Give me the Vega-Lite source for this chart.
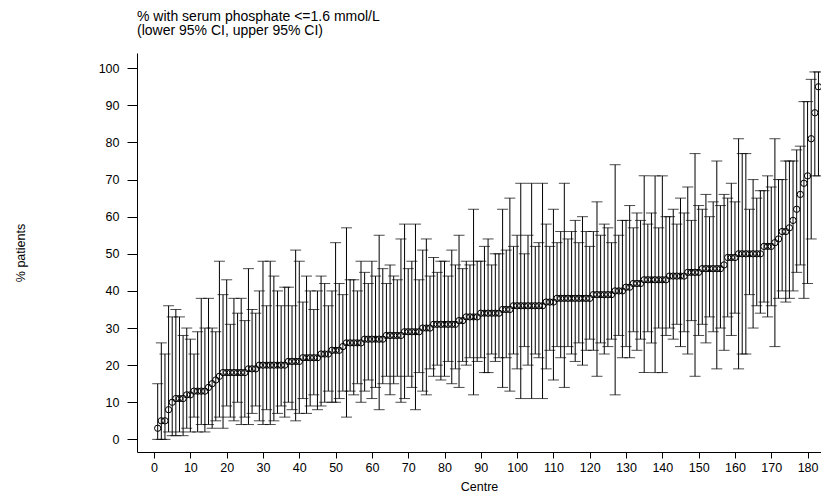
{
"$schema":"https://vega.github.io/schema/vega-lite/v6.json",
"width":684,"height":399,
"autosize":{"type":"none"},
"padding":{"left":137,"top":53,"right":0,"bottom":43},
"background":"white",
"config":{"view":{"stroke":null},"font":"Liberation Sans",
 "axis":{"grid":false,"domainColor":"black","tickColor":"black","labelColor":"black","labelFont":"Liberation Sans","labelFontSize":12.5,"titleFont":"Liberation Sans","titleFontSize":12.5,"titleFontWeight":"normal","titleColor":"black","labelOverlap":false},
 "axisX":{"tickSize":6,"labelPadding":3,"titlePadding":7},
 "axisY":{"tickSize":10,"labelPadding":8,"titlePadding":71}},
"title":{"text":["% with serum phosphate <=1.6 mmol/L","(lower 95% CI, upper 95% CI)"],"anchor":"start","frame":"group","font":"Liberation Sans","fontSize":14,"fontWeight":"normal","color":"black","lineHeight":14.5,"baseline":"bottom","offset":1},
"data":{"values":[
{"c":1,"v":3,"lo":0,"hi":15},{"c":2,"v":5,"lo":0,"hi":26},{"c":3,"v":5,"lo":0,"hi":23},{"c":4,"v":8,"lo":2,"hi":36},{"c":5,"v":10,"lo":1,"hi":33},
{"c":6,"v":11,"lo":1,"hi":35},{"c":7,"v":11,"lo":2,"hi":33},{"c":8,"v":11,"lo":1,"hi":28},{"c":9,"v":12,"lo":3,"hi":30},{"c":10,"v":12,"lo":2,"hi":27},
{"c":11,"v":13,"lo":6,"hi":23},{"c":12,"v":13,"lo":2,"hi":29},{"c":13,"v":13,"lo":4,"hi":38},{"c":14,"v":13,"lo":2,"hi":30},{"c":15,"v":14,"lo":4,"hi":38},
{"c":16,"v":15,"lo":3,"hi":30},{"c":17,"v":16,"lo":5,"hi":29},{"c":18,"v":17,"lo":6,"hi":48},{"c":19,"v":18,"lo":3,"hi":39},{"c":20,"v":18,"lo":9,"hi":43},
{"c":21,"v":18,"lo":6,"hi":31},{"c":22,"v":18,"lo":5,"hi":38},{"c":23,"v":18,"lo":10,"hi":34},{"c":24,"v":18,"lo":4,"hi":38},{"c":25,"v":18,"lo":6,"hi":32},
{"c":26,"v":19,"lo":4,"hi":46},{"c":27,"v":19,"lo":7,"hi":35},{"c":28,"v":19,"lo":9,"hi":34},{"c":29,"v":20,"lo":5,"hi":40},{"c":30,"v":20,"lo":4,"hi":48},
{"c":31,"v":20,"lo":8,"hi":36},{"c":32,"v":20,"lo":4,"hi":48},{"c":33,"v":20,"lo":5,"hi":44},{"c":34,"v":20,"lo":7,"hi":40},{"c":35,"v":20,"lo":9,"hi":36},
{"c":36,"v":20,"lo":6,"hi":41},{"c":37,"v":21,"lo":10,"hi":41},{"c":38,"v":21,"lo":8,"hi":36},{"c":39,"v":21,"lo":5,"hi":51},{"c":40,"v":21,"lo":7,"hi":48},
{"c":41,"v":22,"lo":11,"hi":37},{"c":42,"v":22,"lo":7,"hi":44},{"c":43,"v":22,"lo":9,"hi":40},{"c":44,"v":22,"lo":12,"hi":35},{"c":45,"v":22,"lo":8,"hi":40},
{"c":46,"v":23,"lo":9,"hi":44},{"c":47,"v":23,"lo":10,"hi":42},{"c":48,"v":23,"lo":13,"hi":36},{"c":49,"v":24,"lo":10,"hi":40},{"c":50,"v":24,"lo":10,"hi":53},
{"c":51,"v":24,"lo":11,"hi":42},{"c":52,"v":25,"lo":13,"hi":39},{"c":53,"v":26,"lo":6,"hi":57},{"c":54,"v":26,"lo":13,"hi":43},{"c":55,"v":26,"lo":12,"hi":43},
{"c":56,"v":26,"lo":15,"hi":40},{"c":57,"v":26,"lo":10,"hi":48},{"c":58,"v":27,"lo":13,"hi":45},{"c":59,"v":27,"lo":16,"hi":42},{"c":60,"v":27,"lo":11,"hi":48},
{"c":61,"v":27,"lo":14,"hi":44},{"c":62,"v":27,"lo":8,"hi":55},{"c":63,"v":27,"lo":15,"hi":46},{"c":64,"v":28,"lo":17,"hi":42},{"c":65,"v":28,"lo":12,"hi":47},
{"c":66,"v":28,"lo":15,"hi":44},{"c":67,"v":28,"lo":17,"hi":43},{"c":68,"v":28,"lo":10,"hi":54},{"c":69,"v":29,"lo":11,"hi":58},{"c":70,"v":29,"lo":17,"hi":46},
{"c":71,"v":29,"lo":14,"hi":48},{"c":72,"v":29,"lo":8,"hi":58},{"c":73,"v":29,"lo":18,"hi":43},{"c":74,"v":30,"lo":13,"hi":51},{"c":75,"v":30,"lo":12,"hi":54},
{"c":76,"v":30,"lo":19,"hi":44},{"c":77,"v":31,"lo":17,"hi":49},{"c":78,"v":31,"lo":20,"hi":45},{"c":79,"v":31,"lo":16,"hi":48},{"c":80,"v":31,"lo":17,"hi":48},
{"c":81,"v":31,"lo":21,"hi":44},{"c":82,"v":31,"lo":15,"hi":51},{"c":83,"v":31,"lo":19,"hi":47},{"c":84,"v":32,"lo":14,"hi":55},{"c":85,"v":32,"lo":21,"hi":46},
{"c":86,"v":33,"lo":20,"hi":48},{"c":87,"v":33,"lo":22,"hi":47},{"c":88,"v":33,"lo":12,"hi":62},{"c":89,"v":33,"lo":21,"hi":48},{"c":90,"v":34,"lo":22,"hi":48},
{"c":91,"v":34,"lo":18,"hi":52},{"c":92,"v":34,"lo":18,"hi":54},{"c":93,"v":34,"lo":23,"hi":47},{"c":94,"v":34,"lo":21,"hi":50},{"c":95,"v":34,"lo":22,"hi":50},
{"c":96,"v":35,"lo":14,"hi":62},{"c":97,"v":35,"lo":22,"hi":51},{"c":98,"v":35,"lo":13,"hi":65},{"c":99,"v":36,"lo":23,"hi":52},{"c":100,"v":36,"lo":19,"hi":55},
{"c":101,"v":36,"lo":11,"hi":69},{"c":102,"v":36,"lo":25,"hi":50},{"c":103,"v":36,"lo":20,"hi":55},{"c":104,"v":36,"lo":11,"hi":69},{"c":105,"v":36,"lo":23,"hi":52},
{"c":106,"v":36,"lo":22,"hi":53},{"c":107,"v":36,"lo":11,"hi":69},{"c":108,"v":37,"lo":19,"hi":58},{"c":109,"v":37,"lo":24,"hi":52},{"c":110,"v":37,"lo":16,"hi":62},
{"c":111,"v":38,"lo":25,"hi":53},{"c":112,"v":38,"lo":22,"hi":56},{"c":113,"v":38,"lo":14,"hi":69},{"c":114,"v":38,"lo":25,"hi":54},{"c":115,"v":38,"lo":23,"hi":56},
{"c":116,"v":38,"lo":21,"hi":59},{"c":117,"v":38,"lo":26,"hi":53},{"c":118,"v":38,"lo":20,"hi":60},{"c":119,"v":38,"lo":24,"hi":56},{"c":120,"v":38,"lo":27,"hi":52},
{"c":121,"v":39,"lo":24,"hi":56},{"c":122,"v":39,"lo":17,"hi":64},{"c":123,"v":39,"lo":26,"hi":55},{"c":124,"v":39,"lo":23,"hi":58},{"c":125,"v":39,"lo":25,"hi":57},
{"c":126,"v":39,"lo":27,"hi":53},{"c":127,"v":40,"lo":12,"hi":74},{"c":128,"v":40,"lo":28,"hi":55},{"c":129,"v":40,"lo":22,"hi":59},{"c":130,"v":41,"lo":25,"hi":59},
{"c":131,"v":41,"lo":22,"hi":63},{"c":132,"v":42,"lo":29,"hi":57},{"c":133,"v":42,"lo":24,"hi":61},{"c":134,"v":42,"lo":27,"hi":59},{"c":135,"v":43,"lo":18,"hi":71},
{"c":136,"v":43,"lo":29,"hi":58},{"c":137,"v":43,"lo":26,"hi":61},{"c":138,"v":43,"lo":18,"hi":71},{"c":139,"v":43,"lo":30,"hi":57},{"c":140,"v":43,"lo":18,"hi":71},
{"c":141,"v":43,"lo":28,"hi":60},{"c":142,"v":44,"lo":30,"hi":60},{"c":143,"v":44,"lo":27,"hi":62},{"c":144,"v":44,"lo":31,"hi":58},{"c":145,"v":44,"lo":25,"hi":65},
{"c":146,"v":44,"lo":29,"hi":61},{"c":147,"v":45,"lo":23,"hi":68},{"c":148,"v":45,"lo":32,"hi":59},{"c":149,"v":45,"lo":17,"hi":77},{"c":150,"v":45,"lo":28,"hi":63},
{"c":151,"v":46,"lo":31,"hi":62},{"c":152,"v":46,"lo":26,"hi":66},{"c":153,"v":46,"lo":33,"hi":60},{"c":154,"v":46,"lo":29,"hi":64},{"c":155,"v":46,"lo":19,"hi":75},
{"c":156,"v":46,"lo":30,"hi":63},{"c":157,"v":47,"lo":24,"hi":66},{"c":158,"v":49,"lo":33,"hi":65},{"c":159,"v":49,"lo":28,"hi":69},{"c":160,"v":49,"lo":34,"hi":64},
{"c":161,"v":50,"lo":19,"hi":81},{"c":162,"v":50,"lo":23,"hi":77},{"c":163,"v":50,"lo":23,"hi":77},{"c":164,"v":50,"lo":39,"hi":62},{"c":165,"v":50,"lo":30,"hi":70},
{"c":166,"v":50,"lo":36,"hi":65},{"c":167,"v":50,"lo":34,"hi":67},{"c":168,"v":52,"lo":37,"hi":67},{"c":169,"v":52,"lo":33,"hi":71},{"c":170,"v":52,"lo":36,"hi":68},
{"c":171,"v":53,"lo":25,"hi":81},{"c":172,"v":54,"lo":38,"hi":70},{"c":173,"v":56,"lo":40,"hi":70},{"c":174,"v":56,"lo":37,"hi":75},{"c":175,"v":57,"lo":38,"hi":75},
{"c":176,"v":59,"lo":40,"hi":75},{"c":177,"v":62,"lo":45,"hi":78},{"c":178,"v":66,"lo":47,"hi":79},{"c":179,"v":69,"lo":38,"hi":91},{"c":180,"v":71,"lo":42,"hi":91},
{"c":181,"v":81,"lo":54,"hi":97},{"c":182,"v":88,"lo":71,"hi":99},{"c":183,"v":95,"lo":71,"hi":99}
]},
"layer":[
{"mark":{"type":"errorbar","ticks":{"size":11,"color":"black"},"color":"black","thickness":1},
 "encoding":{
  "x":{"field":"c","type":"quantitative","scale":{"domain":[-4.7,183.7],"nice":false,"zero":false},
   "axis":{"values":[0,10,20,30,40,50,60,70,80,90,100,110,120,130,140,150,160,170,180],"title":"Centre"}},
  "y":{"field":"lo","type":"quantitative","scale":{"domain":[-3.4,104.1],"nice":false,"zero":false},
   "axis":{"values":[0,10,20,30,40,50,60,70,80,90,100],"title":"% patients"}},
  "y2":{"field":"hi"}
 }},
{"mark":{"type":"point","filled":false,"color":"black","size":40,"strokeWidth":1,"opacity":1},
 "encoding":{
  "x":{"field":"c","type":"quantitative","axis":{"values":[0,10,20,30,40,50,60,70,80,90,100,110,120,130,140,150,160,170,180],"title":"Centre"}},
  "y":{"field":"v","type":"quantitative","axis":{"values":[0,10,20,30,40,50,60,70,80,90,100],"title":"% patients"}}
 }}
]
}
